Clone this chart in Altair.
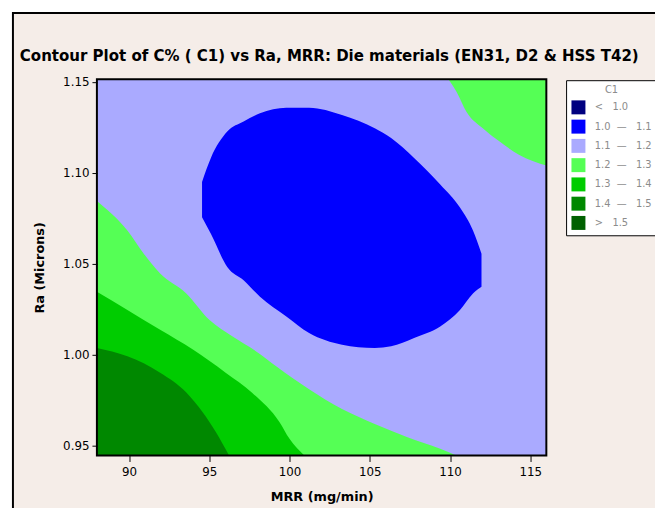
import altair as alt
import pandas as pd

NB = "\u00a0"

# ---- categories (contour levels of C1) and colours ----
levels = [
    NB * 8 + "<" + NB * 3 + "1.0",
    "1.0" + NB * 2 + "—" + NB * 3 + "1.1",
    "1.1" + NB * 2 + "—" + NB * 3 + "1.2",
    "1.2" + NB * 2 + "—" + NB * 3 + "1.3",
    "1.3" + NB * 2 + "—" + NB * 3 + "1.4",
    "1.4" + NB * 2 + "—" + NB * 3 + "1.5",
    NB * 8 + ">" + NB * 3 + "1.5",
]
colors = ["#000080", "#0000FF", "#AAAAFF", "#55FF55", "#00CC00", "#008800", "#006000"]

# ---- axis ranges and ticks ----
x_domain = [88.0, 116.0]
y_domain = [0.9444, 1.1515]
x_ticks = [90, 95, 100, 105, 110, 115]
y_ticks = [0.95, 1.00, 1.05, 1.10, 1.15]

# ---- contour boundaries ----
# 1.0 - 1.1 region (ellipse): lower and upper edge
ell_x = [94.55, 95.10, 96.12, 97.14, 98.16, 99.80, 101.22, 103.27, 105.31, 106.33, 107.76, 109.39, 110.62, 111.43, 111.96]
ell_low = [1.0755, 1.0664, 1.0482, 1.0409, 1.0318, 1.0209, 1.0118, 1.0054, 1.0036, 1.0045, 1.0091, 1.0154, 1.0245, 1.0336, 1.0373]
ell_high = [1.0950, 1.1082, 1.1227, 1.1282, 1.1327, 1.1358, 1.1358, 1.1318, 1.1245, 1.1191, 1.1082, 1.0936, 1.0809, 1.0682, 1.0554]

# 1.2 contour (lower-left)
c12_x = [88.0, 89.90, 90.92, 91.94, 93.57, 95.00, 96.43, 98.06, 99.19, 101.22, 103.27, 105.31, 107.35, 109.39, 110.39]
c12_y = [1.0845, 1.0682, 1.0555, 1.0446, 1.0336, 1.0191, 1.0100, 1.0009, 0.9934, 0.9809, 0.9700, 0.9618, 0.9545, 0.9481, 0.9444]
# 1.3 contour
c13_x = [88.0, 89.90, 91.94, 93.98, 96.02, 97.65, 99.37, 100.00, 100.92]
c13_y = [1.0345, 1.0245, 1.0136, 1.0027, 0.9900, 0.9791, 0.9629, 0.9536, 0.9444]
# 1.4 contour
c14_x = [88.0, 89.90, 91.94, 93.57, 94.59, 95.41, 96.23]
c14_y = [1.0036, 0.9990, 0.9900, 0.9791, 0.9682, 0.9573, 0.9444]
# 1.2 contour (top-right corner)
tr_x = [109.90, 110.41, 111.02, 112.04, 113.07, 114.29, 116.0]
tr_y = [1.1515, 1.1445, 1.1336, 1.1245, 1.1173, 1.1100, 1.1040]

W, H = 455, 381

xs = alt.Scale(domain=x_domain, nice=False, zero=False)
ys = alt.Scale(domain=y_domain, nice=False, zero=False)
x_axis = alt.Axis(values=x_ticks, format="d", title="MRR (mg/min)", grid=False, domain=False,
                  tickColor="black", tickSize=6, labelPadding=5, titlePadding=14, zindex=1)
y_axis = alt.Axis(values=y_ticks, format=".2f", title="Ra (Microns)", grid=False, domain=False,
                  tickColor="black", tickSize=5, labelPadding=3, titlePadding=16, zindex=1)
color = alt.Color(
    "level:N",
    scale=alt.Scale(domain=levels, range=colors),
    legend=alt.Legend(
        orient="none", legendX=475, legendY=1, title="C1",
        titleAnchor="middle", titleAlign="center", titleColor="#8c8c8c",
        titleFontSize=10, titleFontWeight="normal", titleFont="DejaVu Sans",
        labelFont="DejaVu Sans", labelFontSize=10, labelColor="#8c8c8c",
        symbolType="square", symbolSize=200, symbolStrokeWidth=0, symbolOpacity=1,
        padding=5, rowPadding=4.5, labelOffset=9, strokeColor="black", fillColor="white",
        zindex=1, offset=0,
    ),
)

frame = alt.Chart(pd.DataFrame({"a": [0]})).mark_rect(
    fill="#F5EDE8", stroke="black", strokeWidth=2
).encode(x=alt.value(-85), x2=alt.value(700), y=alt.value(-67), y2=alt.value(600))

box = pd.DataFrame({"x": [x_domain[0]], "x2": [x_domain[1]], "y": [y_domain[0]],
                    "y2": [y_domain[1]], "level": [levels[2]]})
back = alt.Chart(box).mark_rect().encode(
    x=alt.X("x:Q", scale=xs, axis=x_axis), x2="x2", y=alt.Y("y:Q", scale=ys, axis=y_axis), y2="y2",
    color=color)


def band(xv, yv, lev, top=False):
    df = pd.DataFrame({"x": xv, "y": yv, "level": lev})
    base = y_domain[1] if top else y_domain[0]
    return alt.Chart(df).mark_area(clip=True, interpolate="monotone").encode(
        x=alt.X("x:Q", scale=xs, axis=x_axis),
        y=alt.Y("y:Q", scale=ys, axis=y_axis, stack=None),
        y2=alt.datum(base),
        color=color,
    )


g12 = band(c12_x, c12_y, levels[3])
g13 = band(c13_x, c13_y, levels[4])
g14 = band(c14_x, c14_y, levels[5])
gtr = band(tr_x, tr_y, levels[3], top=True)

ell_df = pd.DataFrame({"x": ell_x, "lo": ell_low, "hi": ell_high, "level": levels[1]})
ell = alt.Chart(ell_df).mark_area(clip=True, interpolate="monotone").encode(
    x=alt.X("x:Q", scale=xs, axis=x_axis),
    y=alt.Y("lo:Q", scale=ys, axis=y_axis, stack=None),
    y2="hi",
    color=color,
)

border = alt.Chart(box).mark_rect(fill=None, stroke="black", strokeWidth=2).encode(
    x=alt.X("x:Q", scale=xs, axis=x_axis), x2="x2", y=alt.Y("y:Q", scale=ys, axis=y_axis), y2="y2")

chart = alt.layer(frame, back, g12, g13, g14, gtr, ell, border).properties(
    width=W, height=H,
    title=alt.TitleParams(
        "Contour Plot of C% ( C1) vs Ra, MRR: Die materials (EN31, D2 & HSS T42)",
        anchor="start", dx=-78, offset=0, dy=65, baseline="alphabetic", frame="group",
        font="DejaVu Sans", fontSize=15.2, fontWeight="bold", color="black", zindex=1,
    ),
    autosize=alt.AutoSizeParams(type="none"),
    padding={"left": 90, "top": 69, "right": 110, "bottom": 50},
).configure(background="white").configure_view(stroke=None).configure_axis(
    labelFont="DejaVu Sans", labelFontSize=12, labelColor="black",
    titleFont="DejaVu Sans", titleFontSize=13, titleFontWeight="bold", titleColor="black",
)

chart.save("out.html", embed_options={"renderer": "svg", "actions": False})
